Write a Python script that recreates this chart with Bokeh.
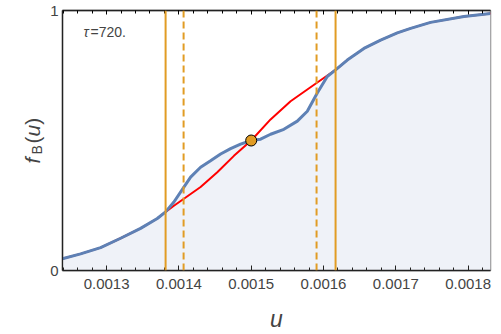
import numpy as np
from bokeh.plotting import figure
from bokeh.layouts import row
from bokeh.models import (Range1d, FixedTicker, PrintfTickFormatter, LinearAxis,
                          Span, Label, ColumnDataSource)
from bokeh.embed import file_html
from bokeh.resources import INLINE

# ---- data ----
u_low = [0.0012387, 0.0012640, 0.0012917, 0.0013194, 0.0013470, 0.0013701, 0.0013816]
f_low = [0.045, 0.064, 0.088, 0.124, 0.162, 0.200, 0.2255]

u_blue_mid = [0.0013931, 0.0014069, 0.0014162, 0.0014300, 0.0014438, 0.0014577, 0.0014715,
              0.0014853, 0.0015000, 0.0015130, 0.0015268, 0.0015452, 0.0015638, 0.0015776,
              0.0015914, 0.0016052]
f_blue_mid = [0.2636, 0.3208, 0.359, 0.397, 0.422, 0.448, 0.469,
              0.486, 0.500, 0.505, 0.524, 0.543, 0.5745, 0.6126,
              0.6827, 0.746]

u_red_mid = [0.0013931, 0.0014069, 0.0014300, 0.0014531, 0.0014761, 0.0015000,
             0.0015268, 0.0015545, 0.0015914]
f_red_mid = [0.249, 0.276, 0.321, 0.378, 0.441, 0.500,
             0.581, 0.651, 0.723]

u_high = [0.0016167, 0.0016329, 0.0016559, 0.0016790, 0.0017021, 0.0017205, 0.0017481,
          0.0017942, 0.0018127, 0.0018311]
f_high = [0.7714, 0.8095, 0.854, 0.886, 0.914, 0.9314, 0.9543,
          0.977, 0.983, 0.9886]

solid_lines = [0.0013816, 0.0016167]
dashed_lines = [0.0014065, 0.0015904]
center_u = [0.0015]
center_f = [0.5]

x_ticks = [0.0013, 0.0014, 0.0015, 0.0016, 0.0017, 0.0018]
y_ticks = [0, 1]
tau_text = "=720."

u_blue = u_low + u_blue_mid + u_high
f_blue = f_low + f_blue_mid + f_high
u_red = u_low + u_red_mid + u_high
f_red = f_low + f_red_mid + f_high

FONT = "Liberation Sans"
ORANGE = "#e19c24"
BLUE = "#5e81b5"
H = 334
LW = 46

p = figure(width=501 - LW, height=H, output_backend="svg", toolbar_location=None,
           x_range=Range1d(0.001239, 0.001831), y_range=Range1d(0, 1),
           min_border_left=62 - LW, min_border_right=11, min_border_top=10,
           min_border_bottom=61, x_axis_type=None, y_axis_type=None)
p.background_fill_color = "white"
p.border_fill_color = "white"
p.outline_line_color = "#888888"
p.outline_line_width = 1.5
p.grid.visible = False

minor = [0.00124 + i * 0.00002 for i in range(30)]

xaxis = LinearAxis(ticker=FixedTicker(ticks=x_ticks, minor_ticks=minor),
                   formatter=PrintfTickFormatter(format="%.4f"))
xaxis.major_tick_in = 5
xaxis.major_tick_out = 0
xaxis.minor_tick_in = 3
xaxis.minor_tick_out = 0
xaxis.major_label_text_font = FONT
xaxis.major_label_text_font_size = "15px"
xaxis.major_label_standoff = 8
xaxis.axis_line_color = "#222222"
xaxis.axis_line_width = 1.3
xaxis.major_tick_line_color = "#222222"
xaxis.minor_tick_line_color = "#222222"
xaxis.axis_label = "u"
xaxis.axis_label_text_font = FONT
xaxis.axis_label_text_font_style = "italic"
xaxis.axis_label_text_font_size = "23px"
xaxis.axis_label_standoff = 14
p.add_layout(xaxis, "below")

top = LinearAxis(ticker=FixedTicker(ticks=x_ticks, minor_ticks=minor))
top.major_tick_in = 4
top.major_tick_out = 0
top.minor_tick_in = 3
top.minor_tick_out = 0
top.major_label_text_font_size = "1px"
top.major_label_text_color = None
top.major_label_standoff = 0
top.axis_line_color = "#222222"
top.axis_line_width = 1.3
p.add_layout(top, "above")

yaxis = LinearAxis(ticker=FixedTicker(ticks=y_ticks))
yaxis.major_tick_in = 0
yaxis.major_tick_out = 0
yaxis.minor_tick_line_color = None
yaxis.major_label_text_font = FONT
yaxis.major_label_text_font_size = "15px"
yaxis.major_label_standoff = 4
yaxis.axis_line_color = "#222222"
yaxis.axis_line_width = 1.3
p.add_layout(yaxis, "left")

src_blue = ColumnDataSource(dict(u=u_blue, f=f_blue))
src_red = ColumnDataSource(dict(u=u_red, f=f_red))

p.varea(x="u", y1=0, y2="f", source=src_blue, fill_color="#eff2f8")
p.line(x="u", y="f", source=src_red, line_color="#ff0000", line_width=2)
p.line(x="u", y="f", source=src_blue, line_color=BLUE, line_width=3)

for loc in solid_lines:
    p.add_layout(Span(location=loc, dimension="height", line_color=ORANGE, line_width=2))
for loc in dashed_lines:
    p.add_layout(Span(location=loc, dimension="height", line_color=ORANGE, line_width=2,
                      line_dash="7 4"))

p.scatter(x=center_u, y=center_f, size=11, fill_color=ORANGE, line_color="black",
          line_width=1)

# tau label
p.add_layout(Label(x=21, y=239, x_units="screen", y_units="screen", text="τ",
                   text_font=FONT, text_font_style="italic", text_font_size="14px",
                   text_baseline="alphabetic"))
p.add_layout(Label(x=28, y=239, x_units="screen", y_units="screen", text=tau_text,
                   text_font=FONT, text_font_size="14px", text_baseline="alphabetic"))

# ---- narrow side figure carrying the rotated y label f_B(u) ----
lf = figure(width=LW, height=H, output_backend="svg", toolbar_location=None,
            x_range=Range1d(0, LW), y_range=Range1d(0, H),
            min_border_left=0, min_border_right=0, min_border_top=0, min_border_bottom=0,
            x_axis_type=None, y_axis_type=None)
lf.outline_line_color = None
lf.grid.visible = False
lf.background_fill_color = "white"
lf.border_fill_color = "white"

ang = np.pi / 2
common = dict(x_units="screen", y_units="screen", angle=ang, text_font=FONT,
              text_baseline="alphabetic")
lf.add_layout(Label(x=32, y=107, text="f", text_font_style="italic",
                    text_font_size="21px", **common))
lf.add_layout(Label(x=36, y=116, text="B", text_font_size="14px", **common))
lf.add_layout(Label(x=32, y=127, text="(", text_font_size="21px", **common))
lf.add_layout(Label(x=32, y=134, text="u", text_font_style="italic",
                    text_font_size="21px", **common))
lf.add_layout(Label(x=32, y=145.7, text=")", text_font_size="21px", **common))

layout = row(lf, p)
open("out.html", "w").write(file_html(layout, INLINE))
